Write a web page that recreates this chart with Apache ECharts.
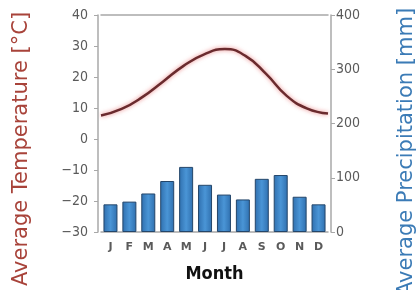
<!DOCTYPE html>
<html>
<head>
<meta charset="utf-8">
<script src="https://cdn.jsdelivr.net/npm/echarts@6/dist/echarts.min.js"></script>
<style>
html,body{margin:0;padding:0;background:#fff;}
#chart{width:419px;height:290px;}
</style>
</head>
<body>
<div id="chart"></div>
<script>
// month initials on the x axis
const months = ['J','F','M','A','M','J','J','A','S','O','N','D'];
// average temperature, degC
const temperature = [7.6, 9.7, 13.5, 18.5, 23.6, 27.3, 29.0, 26.8, 21.0, 13.9, 9.8, 8.2];
// average precipitation, mm
const precipitation = [51, 56, 71, 94, 120, 87, 69, 60, 98, 105, 65, 51];

const axisGrey = '#a8a8a8';
const labelGrey = '#5a5a5a';

let chart = echarts.init(document.getElementById('chart'));

let option = {
    animation: false,
    grid: {
        left: 101,
        right: 91,
        top: 15,
        bottom: 58
    },
    xAxis: [
        {
            type: 'category',
            data: months,
            position: 'bottom',
            axisLine: {onZero: false, lineStyle: {color: axisGrey, width: 1.5}},
            axisTick: {show: false},
            axisLabel: {
                interval: 0,
                margin: 10,
                color: labelGrey,
                fontSize: 11,
                fontWeight: 'bold',
                fontFamily: 'DejaVu Sans'
            },
            name: 'Month',
            nameLocation: 'middle',
            nameGap: 33,
            nameTextStyle: {
                color: '#111',
                fontSize: 18,
                fontWeight: 'bold',
                fontFamily: 'DejaVu Sans Condensed'
            }
        },
        {
            // top frame line, also carries the temperature curve
            type: 'category',
            data: months,
            position: 'top',
            boundaryGap: false,
            axisLine: {onZero: false, lineStyle: {color: axisGrey, width: 1.5}},
            axisTick: {show: false},
            axisLabel: {show: false}
        }
    ],
    yAxis: [
        {
            type: 'value',
            min: -30,
            max: 40,
            interval: 10,
            position: 'left',
            offset: 3,
            axisLine: {show: true, lineStyle: {color: axisGrey, width: 1.5}},
            axisTick: {show: true, length: 4, lineStyle: {color: axisGrey}},
            splitLine: {show: false},
            axisLabel: {
                margin: 10,
                color: labelGrey,
                fontSize: 14,
                fontFamily: 'DejaVu Sans Condensed',
                formatter: function (v) {
                    return v < 0 ? '\u2212' + Math.abs(v) : String(v);
                }
            }
        },
        {
            type: 'value',
            min: 0,
            max: 400,
            interval: 100,
            position: 'right',
            offset: 3,
            axisLine: {show: true, lineStyle: {color: axisGrey, width: 1.5}},
            axisTick: {show: true, length: 4, lineStyle: {color: axisGrey}},
            splitLine: {show: false},
            axisLabel: {
                margin: 5,
                color: labelGrey,
                fontSize: 14,
                fontFamily: 'DejaVu Sans Condensed'
            }
        }
    ],
    graphic: [
        {
            type: 'text',
            x: 22,
            y: 149,
            rotation: Math.PI / 2,
            style: {
                text: 'Average Temperature [°C]',
                fill: '#a8433a',
                font: '21px "DejaVu Sans"',
                textAlign: 'center',
                textVerticalAlign: 'middle'
            }
        },
        {
            type: 'text',
            x: 407,
            y: 152,
            rotation: Math.PI / 2,
            style: {
                text: 'Average Precipitation [mm]',
                fill: '#3b7bb6',
                font: '21px "DejaVu Sans"',
                textAlign: 'center',
                textVerticalAlign: 'middle'
            }
        }
    ],
    series: [
        {
            name: 'Precipitation',
            type: 'bar',
            xAxisIndex: 0,
            yAxisIndex: 1,
            data: precipitation,
            barWidth: 14,
            itemStyle: {
                color: new echarts.graphic.LinearGradient(0, 0, 1, 0, [
                    {offset: 0, color: '#2f6fae'},
                    {offset: 0.5, color: '#4a95d6'},
                    {offset: 1, color: '#2f6fae'}
                ]),
                borderColor: '#24466a',
                borderWidth: 1
            }
        },
        {
            name: 'Temperature',
            type: 'line',
            xAxisIndex: 1,
            yAxisIndex: 0,
            data: temperature,
            smooth: true,
            symbol: 'none',
            lineStyle: {
                color: '#6a2b2e',
                width: 2.5,
                shadowColor: 'rgba(225,80,80,0.7)',
                shadowBlur: 4
            }
        }
    ]
};

chart.setOption(option);
</script>
</body>
</html>
